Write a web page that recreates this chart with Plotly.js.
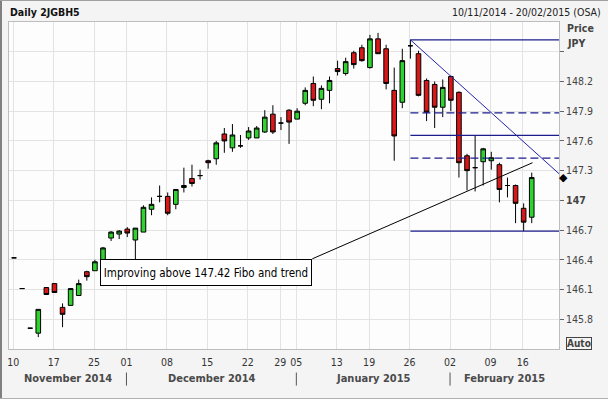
<!DOCTYPE html>
<html>
<head>
<meta charset="utf-8">
<script src="https://cdn.plot.ly/plotly-3.0.1.min.js"></script>
<style>
  html, body { margin: 0; padding: 0; background: #f4f4f4; }
  #wrap { position: relative; width: 608px; height: 399px; overflow: hidden; }
  #chart { width: 608px; height: 399px; }
  .edge { position: absolute; background: #808080; }
</style>
</head>
<body>
<div id="wrap">
  <div id="chart"></div>
  <div class="edge" style="left:0;top:0;width:2px;height:399px;"></div>
  <div class="edge" style="left:0;top:0;width:608px;height:1px;background:#a0a0a0;"></div>
  <div class="edge" style="left:0;top:398px;width:608px;height:1px;background:#b0b0b0;"></div>
</div>
<script>
// ---------------- data ----------------
const dates = [
  '2014-11-10','2014-11-11','2014-11-12','2014-11-13','2014-11-14',
  '2014-11-17','2014-11-18','2014-11-19','2014-11-20','2014-11-21',
  '2014-11-25','2014-11-26','2014-11-27','2014-11-28',
  '2014-12-01','2014-12-02','2014-12-03','2014-12-04','2014-12-05',
  '2014-12-08','2014-12-09','2014-12-10','2014-12-11','2014-12-12',
  '2014-12-15','2014-12-16','2014-12-17','2014-12-18','2014-12-19',
  '2014-12-22','2014-12-24','2014-12-25','2014-12-26',
  '2014-12-29','2014-12-30',
  '2015-01-05','2015-01-06','2015-01-07','2015-01-08','2015-01-09',
  '2015-01-13','2015-01-14','2015-01-15','2015-01-16',
  '2015-01-19','2015-01-20','2015-01-21','2015-01-22','2015-01-23',
  '2015-01-26','2015-01-27','2015-01-28','2015-01-29','2015-01-30',
  '2015-02-02','2015-02-03','2015-02-04','2015-02-05','2015-02-06',
  '2015-02-09','2015-02-10','2015-02-12','2015-02-13',
  '2015-02-16','2015-02-17'
];
const openP = [
  146.42,146.11,145.71,145.66,146.12, 146.16,145.92,145.94,146.04,146.28,
  146.29,146.39,146.62,146.66, 146.71,146.60,146.68,146.91,147.04,
  147.04,146.96,147.13,147.22,147.25, 147.40,147.42,147.67,147.53,147.55,
  147.63,147.63,147.69,147.87, 147.78,147.91,
  147.82,147.98,148.18,148.02,148.11, 148.33,148.28,148.49,148.54,
  148.34,148.63,148.53,148.11,147.99, 148.56,148.48,148.21,148.17,147.94,
  148.25,148.09,147.45,147.33,147.39, 147.40,147.36,147.15,147.15,
  146.92,146.83
];
const highP = [
  146.42,146.11,145.71,145.90,146.12, 146.16,145.96,146.11,146.20,146.29,
  146.40,146.53,146.69,146.70, 146.73,146.72,146.95,147.03,147.15,
  147.08,147.11,147.33,147.36,147.31, 147.41,147.60,147.73,147.77,147.66,
  147.74,147.75,147.91,147.96, 147.84,147.92,
  147.93,148.14,148.25,148.16,148.25, 148.41,148.44,148.51,148.57,
  148.67,148.69,148.57,148.34,148.53, 148.62,148.51,148.23,148.20,148.22,
  148.26,148.10,147.47,147.65,147.53, 147.49,147.38,147.23,147.16,
  146.97,147.28
];
const lowP = [
  146.42,146.11,145.71,145.62,146.05, 146.07,145.72,145.94,146.04,146.19,
  146.29,146.37,146.59,146.61, 146.63,146.38,146.68,146.85,146.98,
  146.85,146.91,147.08,147.14,147.21, 147.32,147.36,147.48,147.49,147.53,
  147.61,147.63,147.68,147.67, 147.71,147.57,
  147.82,147.96,147.95,147.92,147.98, 148.26,148.26,148.33,148.40,
  148.33,148.48,148.12,147.40,147.93, 148.43,148.05,147.80,147.73,147.84,
  147.90,147.23,147.10,147.09,147.15, 147.31,146.98,147.03,146.77,
  146.69,146.77
];
const closeP = [
  146.42,146.11,145.71,145.90,146.05, 146.07,145.85,146.11,146.16,146.23,
  146.38,146.52,146.68,146.69, 146.67,146.72,146.93,146.96,147.04,
  146.87,147.11,147.15,147.17,147.25, 147.38,147.58,147.60,147.66,147.55,
  147.70,147.73,147.84,147.69, 147.78,147.79,
  147.90,148.11,148.01,148.13,148.21, 148.30,148.40,148.37,148.41,
  148.63,148.48,148.18,147.65,148.41, 148.56,148.06,147.89,147.94,148.14,
  148.01,147.38,147.30,147.33,147.52, 147.43,147.11,147.15,146.97,
  146.78,147.23
];

const tickDates = ['2014-11-10','2014-11-17','2014-11-25','2014-12-01','2014-12-08','2014-12-15',
  '2014-12-22','2014-12-29','2015-01-05','2015-01-13','2015-01-19','2015-01-26',
  '2015-02-02','2015-02-09','2015-02-16'];
const tickText = ['10','17','25','01','08','15','22','29','05','13','19','26','02','09','16'];

const monthNames = ['November 2014','December 2014','January 2015','February 2015'];
const monthStarts = ['2014-12-01','2015-01-05','2015-02-02'];

const priceTicks = [145.8,146.1,146.4,146.7,147.0,147.3,147.6,147.9,148.2,148.5];
const priceTickText = ['145.8','146.1','146.4','146.7','<b>147</b>','147.3','147.6','147.9','148.2',''];

// Fibonacci retracement: swing high / swing low and levels
const fiboStartDate = '2015-01-26';
const fiboHigh = 148.62;
const fiboLow = 146.69;
const fiboRatios = [1, 0.618, 0.5, 0.382, 0];
const fiboDashed = [false, true, false, true, false];

// trend lines (position on the trading-day axis, price)
const downTrendX = [49, 67.9];
const downTrendY = [148.62, 147.23];
const upTrendX = [36.87, 64.1];
const upTrendY = [146.41, 147.38];

const noteText = 'Improving above 147.42 Fibo and trend';

// ---------------- chart ----------------
const idx = dates.map((d, i) => i);
const ix = d => dates.indexOf(d);
const xRange = [-0.62, 67.37];
const yRange = [145.5, 148.8];
const FONT = '"DejaVu Sans Condensed", "Liberation Sans", Arial, sans-serif';
const fiboColor = '#1c1c8e';
const toPaperX = v => (v - xRange[0]) / (xRange[1] - xRange[0]);

const candle = {
  type: 'candlestick',
  x: idx, open: openP, high: highP, low: lowP, close: closeP,
  text: dates, hoverinfo: 'text+y',
  increasing: { fillcolor: '#2fd22f', line: { color: '#000000', width: 1 } },
  decreasing: { fillcolor: '#d81818', line: { color: '#000000', width: 1 } },
  whiskerwidth: 0,
  showlegend: false
};

const shapes = [];
fiboRatios.forEach((r, k) => {
  const lvl = fiboLow + (fiboHigh - fiboLow) * r;
  shapes.push({ type: 'line', xref: 'x', yref: 'y', x0: ix(fiboStartDate), x1: xRange[1],
    y0: lvl, y1: lvl, line: { color: fiboColor, width: 1.3, dash: fiboDashed[k] ? '8px,4px' : 'solid' } });
});
shapes.push({ type: 'line', xref: 'x', yref: 'y', x0: downTrendX[0], x1: downTrendX[1],
  y0: downTrendY[0], y1: downTrendY[1], line: { color: '#2525a8', width: 1 } });
shapes.push({ type: 'line', xref: 'x', yref: 'y', x0: upTrendX[0], x1: upTrendX[1],
  y0: upTrendY[0], y1: upTrendY[1], line: { color: '#000000', width: 1 } });
monthStarts.forEach(d => {
  shapes.push({ type: 'line', xref: 'x', yref: 'paper', x0: ix(d) - 0.1, x1: ix(d) - 0.1,
    y0: -0.072, y1: -0.112, line: { color: '#555555', width: 1 } });
});

const annotations = [];
// month labels centred between month boundaries
const bounds = [xRange[0]].concat(monthStarts.map(ix)).concat([xRange[1]]);
monthNames.forEach((m, k) => {
  annotations.push({ xref: 'x', yref: 'paper', x: (bounds[k] + bounds[k + 1]) / 2, y: -0.091,
    text: '<b>' + m + '</b>', showarrow: false, xanchor: 'center', yanchor: 'middle',
    font: { family: FONT, size: 11, color: '#4a4a4a' } });
});
annotations.push({ xref: 'x', yref: 'y', x: upTrendX[0], y: upTrendY[0], xanchor: 'right', yanchor: 'top',
  text: noteText, showarrow: false, bgcolor: '#ffffff', bordercolor: '#000000', borderwidth: 1,
  borderpad: 2, width: 206, height: 21, align: 'center',
  font: { family: FONT, size: 11.5, color: '#000000' } });
// end-of-trend marker on the price axis (outside the x range, so placed in paper units)
annotations.push({ xref: 'paper', yref: 'y', x: toPaperX(downTrendX[1]), y: downTrendY[1],
  xanchor: 'center', yanchor: 'middle', text: '\u25C6', showarrow: false, borderpad: 0,
  font: { family: 'DejaVu Sans, sans-serif', size: 11, color: '#000000' } });
annotations.push({ xref: 'paper', yref: 'paper', x: -0.002, y: 1.031, xanchor: 'left', yanchor: 'middle',
  text: '<b>Daily 2JGBH5</b>', showarrow: false, font: { family: FONT, size: 10.5, color: '#111111' } });
annotations.push({ xref: 'paper', yref: 'paper', x: 1.08, y: 1.031, xanchor: 'right', yanchor: 'middle',
  text: '10/11/2014 - 20/02/2015 (OSA)', showarrow: false, font: { family: FONT, size: 10.5, color: '#222222' } });
annotations.push({ xref: 'paper', yref: 'paper', x: 1.011, y: 0.982, xanchor: 'left', yanchor: 'middle',
  text: '<b>Price</b>', showarrow: false, font: { family: FONT, size: 10.5, color: '#444444' } });
annotations.push({ xref: 'paper', yref: 'paper', x: 1.011, y: 0.936, xanchor: 'left', yanchor: 'middle',
  text: '<b>JPY</b>', showarrow: false, font: { family: FONT, size: 10.5, color: '#444444' } });
annotations.push({ xref: 'paper', yref: 'paper', x: 1.0127, y: 0.018, xanchor: 'left', yanchor: 'middle',
  text: '<b>Auto</b>', showarrow: false, bordercolor: '#444444', borderwidth: 1, borderpad: 0,
  bgcolor: '#f4f4f4', font: { family: FONT, size: 10, color: '#444444' } });

const layout = {
  width: 608, height: 399,
  margin: { l: 9, r: 49, t: 22, b: 50, pad: 0 },
  paper_bgcolor: '#f4f4f4', plot_bgcolor: '#fdfdfd',
  showlegend: false, boxgap: 0.4, boxgroupgap: 0.05,
  xaxis: {
    type: 'linear', range: xRange, fixedrange: true,
    rangeslider: { visible: false },
    tickmode: 'array', tickvals: tickDates.map(d => ix(d) - 0.1), ticktext: tickText,
    ticks: '', showgrid: true, gridcolor: '#e3e3e3', gridwidth: 1, zeroline: false,
    showline: true, mirror: true, linecolor: '#bdbdbd', linewidth: 1,
    tickfont: { family: FONT, size: 10.5, color: '#333333' }, ticklabelstandoff: 3
  },
  yaxis: {
    side: 'right', range: yRange, fixedrange: true,
    tickmode: 'array', tickvals: priceTicks, ticktext: priceTickText,
    ticks: 'outside', ticklen: 4, tickcolor: '#666666',
    showgrid: true, gridcolor: '#e3e3e3', gridwidth: 1, zeroline: false,
    showline: true, mirror: true, linecolor: '#bdbdbd', linewidth: 1,
    tickfont: { family: FONT, size: 10.5, color: '#444444' }
  },
  shapes: shapes,
  annotations: annotations
};

Plotly.newPlot('chart', [candle], layout, { displayModeBar: false, staticPlot: true });
</script>
</body>
</html>
